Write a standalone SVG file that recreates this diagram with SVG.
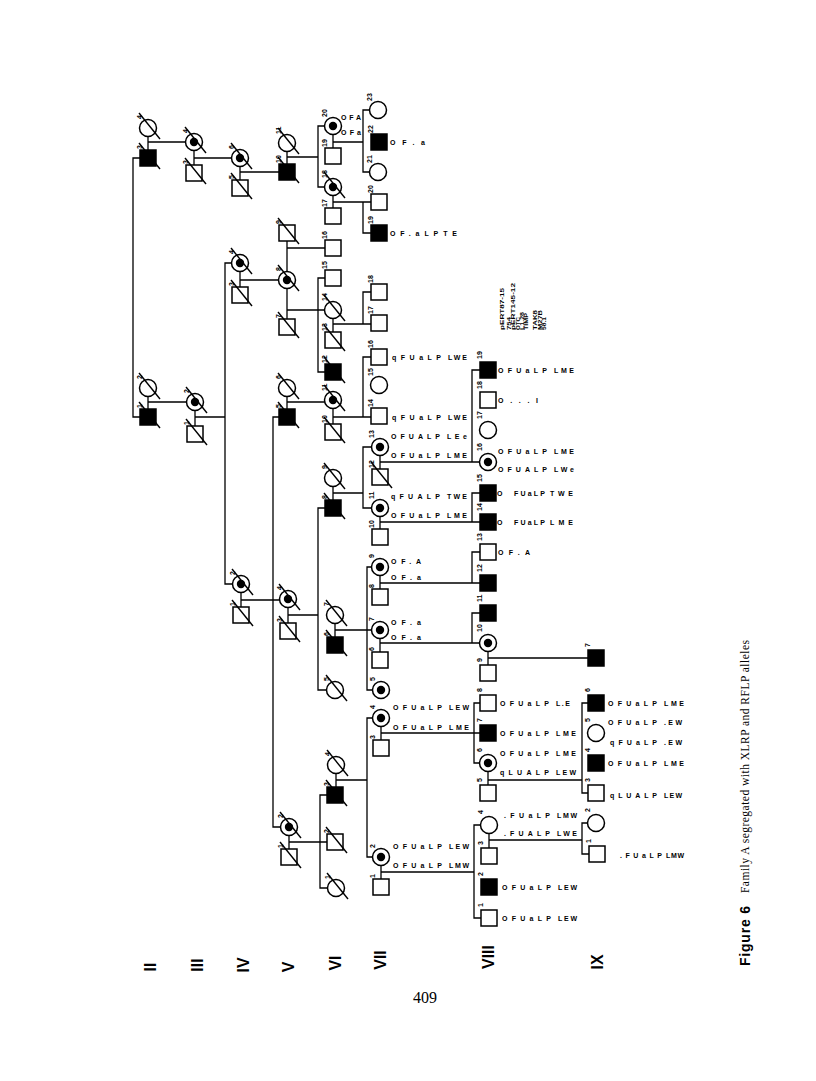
<svg xmlns="http://www.w3.org/2000/svg" xmlns:xlink="http://www.w3.org/1999/xlink" width="816" height="1081" viewBox="0 0 816 1081">
<style>
.o{fill:#fff;stroke:#000;stroke-width:1.5}
.f{fill:#000;stroke:#000;stroke-width:1.5}
.n{font:bold 7px "Liberation Sans",Arial,sans-serif;fill:#000}
.a{font:bold 7px "Liberation Sans",Arial,sans-serif;fill:#000}
.lg{font:bold 5px "Liberation Sans",Arial,sans-serif;fill:#000}
.g{font:bold 16px "Liberation Sans",Arial,sans-serif;fill:#000}
#connectors path{fill:none;stroke:#000;stroke-width:1.3}
</style>
<defs>
<rect id="sq" x="-8" y="-8" width="16" height="16"/>
<circle id="ci" r="8.5"/>
<circle id="dt" r="4.2" fill="#000"/>
<line id="sl" x1="-9" y1="-15" x2="12" y2="11" stroke="#000" stroke-width="1.4"/>
</defs>
<rect width="816" height="1081" fill="#fff"/>
<g id="connectors">
<path d="M148,158H133V417H148M148,128V158M148,142H194M148,388V417M148,402H195"/>
<path d="M194,142V173M194,158H240M195,402V434M195,417H225M240,263H225V584H241"/>
<path d="M240,158V188M240,172H287M240,263V295M240,280H287M241,584V615M241,600H288M287,417H273V827H289"/>
<path d="M287,143V172M287,157H318M333,126H318V187H333M287,233V327M287,248H333M287,310H333M333,278H318V372H333M287,388V417M287,402H333M288,599V631M288,615H318M333,508H318V690H335M289,827V857M289,842H335M335,795H320V888H336"/>
<path d="M333,126V156M333,142H363M378,110H363V172H378M333,187V216M333,202H379M363,202V233H379M333,310V340M333,324H363M379,292H363V324H379M333,400V432M333,417H379M379,357H363V417M333,478V508M333,493H363M380,447H363V508H380M335,615V645M335,630H380M380,567H367V690H381M336,765V795M336,780H367M381,718H367V857H381"/>
<path d="M380,447V477M380,462H488M488,370H472V462M380,508V537M380,522H488M488,493H472V522M380,567V597M380,583H488M488,552H472V583M380,630V660M380,643H488M488,613H472V643M381,718V748M381,733H488M488,703H474V763H488M381,857V887M381,872H474M489,825H474V918H489"/>
<path d="M488,643V673M488,658H596M488,763V793M488,780H582M596,703H582V793H596M489,825V856M489,840H582M596,823H582V854H597"/>
</g>
<!-- Generation II -->
<g id="II-4"><use href="#ci" x="148" y="128" class="o"/><use href="#sl" x="148" y="128"/><text class="n" transform="translate(141.5,119) rotate(-90)">4</text></g>
<g id="II-3"><use href="#sq" x="148" y="158" class="f"/><use href="#sl" x="148" y="158"/><text class="n" transform="translate(141.5,149) rotate(-90)">3</text></g>
<g id="II-2"><use href="#ci" x="148" y="388" class="o"/><use href="#sl" x="148" y="388"/><text class="n" transform="translate(141.5,379) rotate(-90)">2</text></g>
<g id="II-1"><use href="#sq" x="148" y="417" class="f"/><use href="#sl" x="148" y="417"/><text class="n" transform="translate(141.5,408) rotate(-90)">1</text></g>
<!-- Generation III -->
<g id="III-4"><use href="#ci" x="194" y="142" class="o"/><use href="#dt" x="194" y="142"/><use href="#sl" x="194" y="142"/><text class="n" transform="translate(187.5,133) rotate(-90)">4</text></g>
<g id="III-3"><use href="#sq" x="194" y="173" class="o"/><use href="#sl" x="194" y="173"/><text class="n" transform="translate(187.5,164) rotate(-90)">3</text></g>
<g id="III-2"><use href="#ci" x="195" y="402" class="o"/><use href="#dt" x="195" y="402"/><use href="#sl" x="195" y="402"/><text class="n" transform="translate(188.5,393) rotate(-90)">2</text></g>
<g id="III-1"><use href="#sq" x="195" y="434" class="o"/><use href="#sl" x="195" y="434"/><text class="n" transform="translate(188.5,425) rotate(-90)">1</text></g>
<!-- Generation IV -->
<g id="IV-6"><use href="#ci" x="240" y="158" class="o"/><use href="#dt" x="240" y="158"/><use href="#sl" x="240" y="158"/><text class="n" transform="translate(233.5,149) rotate(-90)">6</text></g>
<g id="IV-5"><use href="#sq" x="240" y="188" class="o"/><use href="#sl" x="240" y="188"/><text class="n" transform="translate(233.5,179) rotate(-90)">5</text></g>
<g id="IV-4"><use href="#ci" x="240" y="263" class="o"/><use href="#dt" x="240" y="263"/><use href="#sl" x="240" y="263"/><text class="n" transform="translate(233.5,254) rotate(-90)">4</text></g>
<g id="IV-3"><use href="#sq" x="240" y="295" class="o"/><use href="#sl" x="240" y="295"/><text class="n" transform="translate(233.5,286) rotate(-90)">3</text></g>
<g id="IV-2"><use href="#ci" x="241" y="584" class="o"/><use href="#dt" x="241" y="584"/><use href="#sl" x="241" y="584"/><text class="n" transform="translate(234.5,575) rotate(-90)">2</text></g>
<g id="IV-1"><use href="#sq" x="241" y="615" class="o"/><use href="#sl" x="241" y="615"/><text class="n" transform="translate(234.5,606) rotate(-90)">1</text></g>
<!-- Generation V -->
<g id="V-11"><use href="#ci" x="287" y="143" class="o"/><use href="#sl" x="287" y="143"/><text class="n" transform="translate(280.5,134) rotate(-90)">11</text></g>
<g id="V-10"><use href="#sq" x="287" y="172" class="f"/><use href="#sl" x="287" y="172"/><text class="n" transform="translate(280.5,163) rotate(-90)">10</text></g>
<g id="V-9"><use href="#sq" x="287" y="233" class="o"/><use href="#sl" x="287" y="233"/><text class="n" transform="translate(280.5,224) rotate(-90)">9</text></g>
<g id="V-8"><use href="#ci" x="287" y="280" class="o"/><use href="#dt" x="287" y="280"/><use href="#sl" x="287" y="280"/><text class="n" transform="translate(280.5,271) rotate(-90)">8</text></g>
<g id="V-7"><use href="#sq" x="287" y="327" class="o"/><use href="#sl" x="287" y="327"/><text class="n" transform="translate(280.5,318) rotate(-90)">7</text></g>
<g id="V-6"><use href="#ci" x="287" y="388" class="o"/><use href="#sl" x="287" y="388"/><text class="n" transform="translate(280.5,379) rotate(-90)">6</text></g>
<g id="V-5"><use href="#sq" x="287" y="417" class="f"/><use href="#sl" x="287" y="417"/><text class="n" transform="translate(280.5,408) rotate(-90)">5</text></g>
<g id="V-4"><use href="#ci" x="288" y="599" class="o"/><use href="#dt" x="288" y="599"/><use href="#sl" x="288" y="599"/><text class="n" transform="translate(281.5,590) rotate(-90)">4</text></g>
<g id="V-3"><use href="#sq" x="288" y="631" class="o"/><use href="#sl" x="288" y="631"/><text class="n" transform="translate(281.5,622) rotate(-90)">3</text></g>
<g id="V-2"><use href="#ci" x="289" y="827" class="o"/><use href="#dt" x="289" y="827"/><use href="#sl" x="289" y="827"/><text class="n" transform="translate(282.5,818) rotate(-90)">2</text></g>
<g id="V-1"><use href="#sq" x="289" y="857" class="o"/><use href="#sl" x="289" y="857"/><text class="n" transform="translate(282.5,848) rotate(-90)">1</text></g>
<!-- Generation VI -->
<g id="VI-20"><use href="#ci" x="333" y="126" class="o"/><use href="#dt" x="333" y="126"/><text class="n" transform="translate(326.5,117) rotate(-90)">20</text><text class="a" x="341" y="120" textLength="20">OFA</text><text class="a" x="341" y="135" textLength="20">OFa</text></g>
<g id="VI-19"><use href="#sq" x="333" y="156" class="o"/><text class="n" transform="translate(326.5,147) rotate(-90)">19</text></g>
<g id="VI-18"><use href="#ci" x="333" y="187" class="o"/><use href="#dt" x="333" y="187"/><use href="#sl" x="333" y="187"/><text class="n" transform="translate(326.5,178) rotate(-90)">18</text></g>
<g id="VI-17"><use href="#sq" x="333" y="216" class="o"/><text class="n" transform="translate(326.5,207) rotate(-90)">17</text></g>
<g id="VI-16"><use href="#sq" x="333" y="248" class="o"/><text class="n" transform="translate(326.5,239) rotate(-90)">16</text></g>
<g id="VI-15"><use href="#sq" x="333" y="278" class="o"/><text class="n" transform="translate(326.5,269) rotate(-90)">15</text></g>
<g id="VI-14"><use href="#ci" x="333" y="310" class="o"/><use href="#sl" x="333" y="310"/><text class="n" transform="translate(326.5,301) rotate(-90)">14</text></g>
<g id="VI-13"><use href="#sq" x="333" y="340" class="o"/><use href="#sl" x="333" y="340"/><text class="n" transform="translate(326.5,331) rotate(-90)">13</text></g>
<g id="VI-12"><use href="#sq" x="333" y="372" class="f"/><use href="#sl" x="333" y="372"/><text class="n" transform="translate(326.5,363) rotate(-90)">12</text></g>
<g id="VI-11"><use href="#ci" x="333" y="400" class="o"/><use href="#dt" x="333" y="400"/><use href="#sl" x="333" y="400"/><text class="n" transform="translate(326.5,391) rotate(-90)">11</text></g>
<g id="VI-10"><use href="#sq" x="333" y="432" class="o"/><use href="#sl" x="333" y="432"/><text class="n" transform="translate(326.5,423) rotate(-90)">10</text></g>
<g id="VI-9"><use href="#ci" x="333" y="478" class="o"/><use href="#sl" x="333" y="478"/><text class="n" transform="translate(326.5,469) rotate(-90)">9</text></g>
<g id="VI-8"><use href="#sq" x="333" y="508" class="f"/><use href="#sl" x="333" y="508"/><text class="n" transform="translate(326.5,499) rotate(-90)">8</text></g>
<g id="VI-7"><use href="#ci" x="335" y="615" class="o"/><use href="#sl" x="335" y="615"/><text class="n" transform="translate(328.5,606) rotate(-90)">7</text></g>
<g id="VI-6"><use href="#sq" x="335" y="645" class="f"/><use href="#sl" x="335" y="645"/><text class="n" transform="translate(328.5,636) rotate(-90)">6</text></g>
<g id="VI-5"><use href="#ci" x="335" y="690" class="o"/><use href="#sl" x="335" y="690"/><text class="n" transform="translate(328.5,681) rotate(-90)">5</text></g>
<g id="VI-4"><use href="#ci" x="336" y="765" class="o"/><use href="#sl" x="336" y="765"/><text class="n" transform="translate(329.5,756) rotate(-90)">4</text></g>
<g id="VI-3"><use href="#sq" x="335" y="795" class="f"/><use href="#sl" x="335" y="795"/><text class="n" transform="translate(328.5,786) rotate(-90)">3</text></g>
<g id="VI-2"><use href="#sq" x="335" y="842" class="o"/><use href="#sl" x="335" y="842"/><text class="n" transform="translate(328.5,833) rotate(-90)">2</text></g>
<g id="VI-1"><use href="#ci" x="336" y="888" class="o"/><use href="#sl" x="336" y="888"/><text class="n" transform="translate(329.5,879) rotate(-90)">1</text></g>
<!-- Generation VII -->
<g id="VII-23"><use href="#ci" x="378" y="110" class="o"/><text class="n" transform="translate(371.5,101) rotate(-90)">23</text></g>
<g id="VII-22"><use href="#sq" x="379" y="142" class="f"/><text class="n" transform="translate(372.5,133) rotate(-90)">22</text><text class="a" x="390" y="144.5" textLength="35">OF.a</text></g>
<g id="VII-21"><use href="#ci" x="378" y="172" class="o"/><text class="n" transform="translate(371.5,163) rotate(-90)">21</text></g>
<g id="VII-20"><use href="#sq" x="379" y="202" class="o"/><text class="n" transform="translate(372.5,193) rotate(-90)">20</text></g>
<g id="VII-19"><use href="#sq" x="379" y="233" class="f"/><text class="n" transform="translate(372.5,224) rotate(-90)">19</text><text class="a" x="390" y="235.5" textLength="67">OF.aLPTE</text></g>
<g id="VII-18"><use href="#sq" x="379" y="292" class="o"/><text class="n" transform="translate(372.5,283) rotate(-90)">18</text></g>
<g id="VII-17"><use href="#sq" x="379" y="323" class="o"/><text class="n" transform="translate(372.5,314) rotate(-90)">17</text></g>
<g id="VII-16"><use href="#sq" x="379" y="357" class="o"/><text class="n" transform="translate(372.5,348) rotate(-90)">16</text><text class="a" x="392" y="359.5" textLength="49">qFUaLP</text><text class="a" x="448" y="359.5" textLength="19">LWE</text></g>
<g id="VII-15"><use href="#ci" x="379" y="385" class="o"/><text class="n" transform="translate(372.5,376) rotate(-90)">15</text></g>
<g id="VII-14"><use href="#sq" x="379" y="416" class="o"/><text class="n" transform="translate(372.5,407) rotate(-90)">14</text><text class="a" x="392" y="419.5" textLength="49">qFUaLP</text><text class="a" x="448" y="419.5" textLength="19">LWE</text></g>
<g id="VII-13"><use href="#ci" x="380" y="447" class="o"/><use href="#dt" x="380" y="447"/><text class="n" transform="translate(373.5,438) rotate(-90)">13</text><text class="a" x="391" y="438.5" textLength="49">OFUALP</text><text class="a" x="447" y="438.5" textLength="20">LEe</text><text class="a" x="391" y="457.5" textLength="49">OFUaLP</text><text class="a" x="447" y="457.5" textLength="20">LME</text></g>
<g id="VII-12"><use href="#sq" x="380" y="477" class="o"/><use href="#sl" x="380" y="477"/><text class="n" transform="translate(373.5,468) rotate(-90)">12</text></g>
<g id="VII-11"><use href="#ci" x="380" y="508" class="o"/><use href="#dt" x="380" y="508"/><text class="n" transform="translate(373.5,499) rotate(-90)">11</text><text class="a" x="391" y="498.5" textLength="49">qFUALP</text><text class="a" x="447" y="498.5" textLength="20">TWE</text><text class="a" x="391" y="517.5" textLength="49">OFUaLP</text><text class="a" x="447" y="517.5" textLength="20">LME</text></g>
<g id="VII-10"><use href="#sq" x="380" y="537" class="o"/><text class="n" transform="translate(373.5,528) rotate(-90)">10</text></g>
<g id="VII-9"><use href="#ci" x="380" y="567" class="o"/><use href="#dt" x="380" y="567"/><text class="n" transform="translate(373.5,558) rotate(-90)">9</text><text class="a" x="391" y="563.5" textLength="30">OF.A</text><text class="a" x="391" y="579.5" textLength="30">OF.a</text></g>
<g id="VII-8"><use href="#sq" x="380" y="597" class="o"/><text class="n" transform="translate(373.5,588) rotate(-90)">8</text></g>
<g id="VII-7"><use href="#ci" x="380" y="630" class="o"/><use href="#dt" x="380" y="630"/><text class="n" transform="translate(373.5,621) rotate(-90)">7</text><text class="a" x="391" y="624.5" textLength="30">OF.a</text><text class="a" x="391" y="639.5" textLength="30">OF.a</text></g>
<g id="VII-6"><use href="#sq" x="380" y="660" class="o"/><text class="n" transform="translate(373.5,651) rotate(-90)">6</text></g>
<g id="VII-5"><use href="#ci" x="381" y="690" class="o"/><use href="#dt" x="381" y="690"/><text class="n" transform="translate(374.5,681) rotate(-90)">5</text></g>
<g id="VII-4"><use href="#ci" x="381" y="718" class="o"/><use href="#dt" x="381" y="718"/><text class="n" transform="translate(374.5,709) rotate(-90)">4</text><text class="a" x="393" y="709.5" textLength="49">OFUaLP</text><text class="a" x="449" y="709.5" textLength="20">LEW</text><text class="a" x="393" y="729.5" textLength="49">OFUaLP</text><text class="a" x="449" y="729.5" textLength="20">LME</text></g>
<g id="VII-3"><use href="#sq" x="381" y="748" class="o"/><text class="n" transform="translate(374.5,739) rotate(-90)">3</text></g>
<g id="VII-2"><use href="#ci" x="381" y="857" class="o"/><use href="#dt" x="381" y="857"/><text class="n" transform="translate(374.5,848) rotate(-90)">2</text><text class="a" x="393" y="848.5" textLength="49">OFUaLP</text><text class="a" x="449" y="848.5" textLength="20">LEW</text><text class="a" x="393" y="867.5" textLength="49">OFUaLP</text><text class="a" x="449" y="867.5" textLength="20">LMW</text></g>
<g id="VII-1"><use href="#sq" x="381" y="887" class="o"/><text class="n" transform="translate(374.5,878) rotate(-90)">1</text></g>
<!-- Generation VIII -->
<g id="VIII-19"><use href="#sq" x="488" y="370" class="f"/><text class="n" transform="translate(481.5,359) rotate(-90)">19</text><text class="a" x="498" y="372.5" textLength="49">OFUaLP</text><text class="a" x="554" y="372.5" textLength="20">LME</text></g>
<g id="VIII-18"><use href="#sq" x="488" y="400" class="o"/><text class="n" transform="translate(481.5,389) rotate(-90)">18</text><text class="a" x="498" y="402.5" textLength="40">O...I</text></g>
<g id="VIII-17"><use href="#ci" x="488" y="430" class="o"/><text class="n" transform="translate(481.5,419) rotate(-90)">17</text></g>
<g id="VIII-16"><use href="#ci" x="488" y="462" class="o"/><use href="#dt" x="488" y="462"/><text class="n" transform="translate(481.5,451) rotate(-90)">16</text><text class="a" x="498" y="453.5" textLength="49">OFUaLP</text><text class="a" x="554" y="453.5" textLength="20">LME</text><text class="a" x="498" y="471.5" textLength="49">OFUALP</text><text class="a" x="554" y="471.5" textLength="20">LWe</text></g>
<g id="VIII-15"><use href="#sq" x="488" y="493" class="f"/><text class="n" transform="translate(481.5,482) rotate(-90)">15</text><text class="a" x="497" y="495.5">O</text><text class="a" x="514" y="495.5" textLength="31">FUaLP</text><text class="a" x="550" y="495.5" textLength="23">TWE</text></g>
<g id="VIII-14"><use href="#sq" x="488" y="522" class="f"/><text class="n" transform="translate(481.5,511) rotate(-90)">14</text><text class="a" x="497" y="524.5">O</text><text class="a" x="514" y="524.5" textLength="31">FUaLP</text><text class="a" x="550" y="524.5" textLength="23">LME</text></g>
<g id="VIII-13"><use href="#sq" x="488" y="552" class="o"/><text class="n" transform="translate(481.5,541) rotate(-90)">13</text><text class="a" x="498" y="554.5" textLength="32">OF.A</text></g>
<g id="VIII-12"><use href="#sq" x="488" y="583" class="f"/><text class="n" transform="translate(481.5,572) rotate(-90)">12</text></g>
<g id="VIII-11"><use href="#sq" x="488" y="613" class="f"/><text class="n" transform="translate(481.5,602) rotate(-90)">11</text></g>
<g id="VIII-10"><use href="#ci" x="488" y="643" class="o"/><use href="#dt" x="488" y="643"/><text class="n" transform="translate(481.5,632) rotate(-90)">10</text></g>
<g id="VIII-9"><use href="#sq" x="488" y="673" class="o"/><text class="n" transform="translate(481.5,662) rotate(-90)">9</text></g>
<g id="VIII-8"><use href="#sq" x="488" y="703" class="o"/><text class="n" transform="translate(481.5,692) rotate(-90)">8</text><text class="a" x="500" y="706" textLength="49">OFUaLP</text><text class="a" x="556" y="706" textLength="14">L.E</text></g>
<g id="VIII-7"><use href="#sq" x="488" y="733" class="f"/><text class="n" transform="translate(481.5,722) rotate(-90)">7</text><text class="a" x="500" y="735.5" textLength="49">OFUaLP</text><text class="a" x="556" y="735.5" textLength="20">LME</text></g>
<g id="VIII-6"><use href="#ci" x="488" y="763" class="o"/><use href="#dt" x="488" y="763"/><text class="n" transform="translate(481.5,752) rotate(-90)">6</text><text class="a" x="500" y="755.5" textLength="49">OFUaLP</text><text class="a" x="556" y="755.5" textLength="20">LME</text><text class="a" x="500" y="774.5" textLength="49">qLUALP</text><text class="a" x="556" y="774.5" textLength="20">LEW</text></g>
<g id="VIII-5"><use href="#sq" x="488" y="793" class="o"/><text class="n" transform="translate(481.5,782) rotate(-90)">5</text></g>
<g id="VIII-4"><use href="#ci" x="489" y="825" class="o"/><text class="n" transform="translate(482.5,814) rotate(-90)">4</text><text class="a" x="504" y="817.5" textLength="46">.FUaLP</text><text class="a" x="557" y="817.5" textLength="20">LMW</text><text class="a" x="504" y="835.5" textLength="46">.FUALP</text><text class="a" x="557" y="835.5" textLength="20">LWE</text></g>
<g id="VIII-3"><use href="#sq" x="489" y="856" class="o"/><text class="n" transform="translate(482.5,845) rotate(-90)">3</text></g>
<g id="VIII-2"><use href="#sq" x="489" y="887" class="f"/><text class="n" transform="translate(482.5,876) rotate(-90)">2</text><text class="a" x="502" y="889.5" textLength="49">OFUaLP</text><text class="a" x="558" y="889.5" textLength="19">LEW</text></g>
<g id="VIII-1"><use href="#sq" x="489" y="918" class="o"/><text class="n" transform="translate(482.5,907) rotate(-90)">1</text><text class="a" x="502" y="920.5" textLength="49">OFUaLP</text><text class="a" x="558" y="920.5" textLength="19">LEW</text></g>
<!-- Generation IX -->
<g id="IX-7"><use href="#sq" x="596" y="658" class="f"/><text class="n" transform="translate(589.5,647) rotate(-90)">7</text></g>
<g id="IX-6"><use href="#sq" x="596" y="703" class="f"/><text class="n" transform="translate(589.5,692) rotate(-90)">6</text><text class="a" x="608" y="705.5" textLength="49">OFUaLP</text><text class="a" x="664" y="705.5" textLength="20">LME</text></g>
<g id="IX-5"><use href="#ci" x="596" y="733" class="o"/><text class="n" transform="translate(589.5,722) rotate(-90)">5</text><text class="a" x="608" y="724.5" textLength="49">OFUaLP</text><text class="a" x="664" y="724.5" textLength="18">.EW</text><text class="a" x="610" y="744.5" textLength="47">qFUaLP</text><text class="a" x="664" y="744.5" textLength="18">.EW</text></g>
<g id="IX-4"><use href="#sq" x="596" y="763" class="f"/><text class="n" transform="translate(589.5,752) rotate(-90)">4</text><text class="a" x="608" y="765.5" textLength="49">OFUaLP</text><text class="a" x="664" y="765.5" textLength="20">LME</text></g>
<g id="IX-3"><use href="#sq" x="596" y="793" class="o"/><text class="n" transform="translate(589.5,782) rotate(-90)">3</text><text class="a" x="610" y="797.5" textLength="47">qLUALP</text><text class="a" x="664" y="797.5" textLength="18">LEW</text></g>
<g id="IX-2"><use href="#ci" x="596" y="823" class="o"/><text class="n" transform="translate(589.5,812) rotate(-90)">2</text></g>
<g id="IX-1"><use href="#sq" x="597" y="854" class="o"/><text class="n" transform="translate(590.5,843) rotate(-90)">1</text><text class="a" x="620" y="857.5" textLength="42">.FUaLP</text><text class="a" x="666" y="857.5" textLength="18">LMW</text></g>
<!-- Probe legend -->
<g id="legend">
<text class="lg" transform="translate(504,330) rotate(-90)" textLength="42" lengthAdjust="spacingAndGlyphs">pERT87-15</text>
<text class="lg" transform="translate(510.5,330) rotate(-90)" textLength="13" lengthAdjust="spacingAndGlyphs">754</text>
<text class="lg" transform="translate(515,330) rotate(-90)" textLength="47" lengthAdjust="spacingAndGlyphs">pERT145-12</text>
<text class="lg" transform="translate(519.5,330) rotate(-90)" textLength="13" lengthAdjust="spacingAndGlyphs">OTC</text>
<text class="lg" transform="translate(524,330) rotate(-90)" textLength="18" lengthAdjust="spacingAndGlyphs">L1.28</text>
<text class="lg" transform="translate(528,330) rotate(-90)" textLength="17" lengthAdjust="spacingAndGlyphs">TIMP</text>
<text class="lg" transform="translate(537,330) rotate(-90)" textLength="20" lengthAdjust="spacingAndGlyphs">TAK8</text>
<text class="lg" transform="translate(541.5,330) rotate(-90)" textLength="20" lengthAdjust="spacingAndGlyphs">M27B</text>
<text class="lg" transform="translate(545.5,330) rotate(-90)" textLength="13" lengthAdjust="spacingAndGlyphs">58.1</text>
</g>
<!-- Generation labels -->
<g id="generations">
<text class="g" text-anchor="middle" dy=".36em" transform="translate(150,967) rotate(-90)">II</text>
<text class="g" text-anchor="middle" dy=".36em" transform="translate(197,965) rotate(-90)">III</text>
<text class="g" text-anchor="middle" dy=".36em" transform="translate(243,965) rotate(-90)">IV</text>
<text class="g" text-anchor="middle" dy=".36em" transform="translate(288,967) rotate(-90)">V</text>
<text class="g" text-anchor="middle" dy=".36em" transform="translate(335,963) rotate(-90)">VI</text>
<text class="g" text-anchor="middle" dy=".36em" transform="translate(380,960) rotate(-90)">VII</text>
<text class="g" text-anchor="middle" dy=".36em" transform="translate(488,957) rotate(-90)">VIII</text>
<text class="g" text-anchor="middle" dy=".36em" transform="translate(597,962) rotate(-90)">IX</text>
</g>
<!-- Caption -->
<g id="caption">
<text transform="translate(750,966) rotate(-90)" textLength="60" style="font:bold 14px 'Liberation Sans',Arial,sans-serif">Figure 6</text>
<text transform="translate(749,893) rotate(-90)" textLength="253" style="font:11.5px 'Liberation Serif','Times New Roman',serif">Family A segregated with XLRP and RFLP alleles</text>
<text x="425" y="1003" text-anchor="middle" style="font:16px 'Liberation Serif','Times New Roman',serif">409</text>
</g>
</svg>
